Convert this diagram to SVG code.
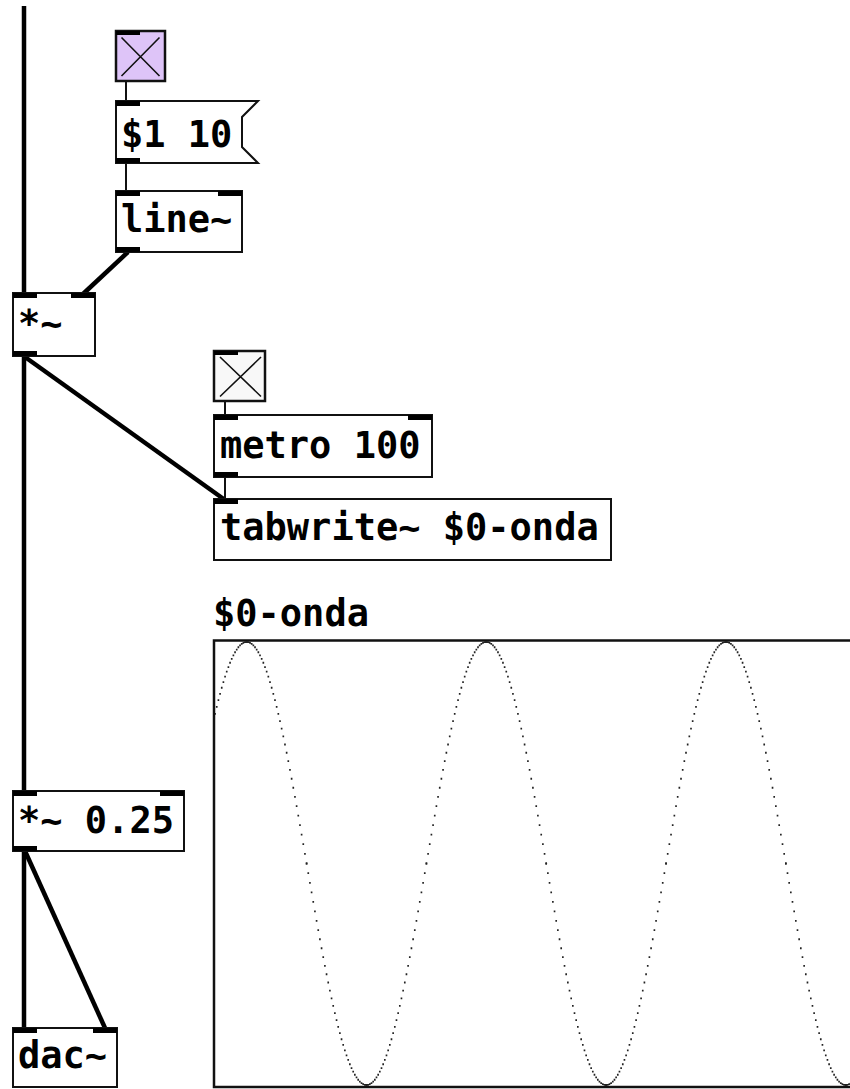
<svg xmlns="http://www.w3.org/2000/svg" xmlns:xlink="http://www.w3.org/1999/xlink" width="850" height="1089" viewBox="0 0 850 1089">
  <style>
    .box { fill: #ffffff; stroke: #111111; stroke-width: 2; }
    .tgl { stroke: #111111; stroke-width: 2.5; }
    .xmark { stroke: #111111; stroke-width: 1.6; fill: none; }
    .io { fill: #000000; }
    .lbl { font-family: "DejaVu Sans Mono", "Liberation Mono", monospace; font-weight: bold; font-size: 37px; fill: #000000; }
    .sig { stroke: #000000; stroke-width: 4.5; fill: none; }
    .ctl { stroke: #111111; stroke-width: 2; fill: none; }
    .pts { stroke: #222222; stroke-width: 1.8; fill: none; }
  </style>
  <defs>
    <!-- one quarter period of the table plot: sample points from crest to midline -->
    <path id="q" d="M-0.83 0h1.66M0.83 0.21h1.66M2.50 0.84h1.66M4.16 1.90h1.66M5.83 3.36h1.66M7.49 5.25h1.66M9.15 7.55h1.66M10.82 10.25h1.66M12.48 13.36h1.66M14.15 16.86h1.66M15.81 20.75h1.66M17.47 25.03h1.66M19.14 29.67h1.66M20.80 34.69h1.66M22.47 40.06h1.66M24.13 45.77h1.66M25.79 51.82h1.66M27.46 58.19h1.66M29.12 64.88h1.66M30.79 71.86h1.66M32.45 79.12h1.66M34.11 86.66h1.66M35.78 94.45h1.66M37.44 102.49h1.66M39.11 110.75h1.66M40.77 119.22h1.66M42.43 127.89h1.66M44.10 136.74h1.66M45.76 145.74h1.66M47.43 154.89h1.66M49.09 164.17h1.66M50.75 173.56h1.66M52.42 183.04h1.66M54.08 192.59h1.66M55.75 202.19h1.66M57.41 211.84h1.66M59.07 221.5h1.66"/>
    <g id="half">
      <use href="#q"/>
      <use href="#q" transform="rotate(180 59.90 221.5)"/>
    </g>
    <g id="per">
      <use href="#half"/>
      <use href="#half" transform="translate(239.62 0) scale(-1 1)"/>
    </g>
    <clipPath id="arrclip">
      <rect x="215" y="639" width="640" height="449"/>
    </clipPath>
  </defs>

  <!-- patch cords -->
  <g id="connectors">
    <line class="sig" x1="24" y1="6" x2="24" y2="293"/>
    <line class="sig" x1="128" y1="252" x2="83" y2="294"/>
    <line class="sig" x1="24" y1="356" x2="24" y2="791"/>
    <line class="sig" x1="25" y1="357" x2="225" y2="500"/>
    <line class="sig" x1="24" y1="851" x2="24" y2="1028"/>
    <line class="sig" x1="25" y1="851" x2="105" y2="1028"/>
    <line class="ctl" x1="126" y1="81" x2="126" y2="101"/>
    <line class="ctl" x1="126" y1="163" x2="126" y2="191"/>
    <line class="ctl" x1="225" y1="401" x2="225" y2="415"/>
    <line class="ctl" x1="225" y1="477" x2="225" y2="499"/>
  </g>

  <!-- toggle (on, selected colour) -->
  <g id="toggle1">
    <rect class="tgl" x="116" y="31" width="49" height="50" fill="#dec4f8"/>
    <path class="xmark" d="M121.5 37.5L159.5 76M159.5 37.5L121.5 76"/>
    <rect class="io" x="116" y="31" width="24" height="4"/>
  </g>

  <!-- message box -->
  <g id="msg">
    <path class="box" d="M116 101H258L242 117V147L258 163H116Z"/>
    <rect class="io" x="116" y="101" width="24" height="5"/>
    <rect class="io" x="116" y="158" width="24" height="5"/>
    <text class="lbl" x="121" y="147">$1 10</text>
  </g>

  <g id="line">
    <rect class="box" x="116" y="191" width="126" height="61"/>
    <rect class="io" x="116" y="191" width="24" height="5"/>
    <rect class="io" x="218" y="191" width="24" height="5"/>
    <rect class="io" x="116" y="247" width="24" height="5"/>
    <text class="lbl" x="121" y="232">line~</text>
  </g>

  <g id="mul">
    <rect class="box" x="13" y="293" width="82" height="63"/>
    <rect class="io" x="13" y="293" width="24" height="5"/>
    <rect class="io" x="71" y="293" width="24" height="5"/>
    <rect class="io" x="13" y="351" width="24" height="5"/>
    <text class="lbl" x="18" y="336">*~</text>
  </g>

  <g id="toggle2">
    <rect class="tgl" x="214" y="351" width="51" height="50" fill="#f8f8f8"/>
    <path class="xmark" d="M220 357L261 396.5M261 357L220 396.5"/>
    <rect class="io" x="214" y="351" width="24" height="4"/>
  </g>

  <g id="metro">
    <rect class="box" x="214" y="415" width="218" height="62"/>
    <rect class="io" x="214" y="415" width="24" height="5"/>
    <rect class="io" x="408" y="415" width="24" height="5"/>
    <rect class="io" x="214" y="472" width="24" height="5"/>
    <text class="lbl" x="220" y="458">metro 100</text>
  </g>

  <g id="tabwrite">
    <rect class="box" x="214" y="499" width="397" height="61"/>
    <rect class="io" x="214" y="499" width="24" height="5"/>
    <text class="lbl" x="220" y="540">tabwrite~ $0-onda</text>
  </g>

  <!-- table display -->
  <g id="array">
    <text class="lbl" x="213" y="626">$0-onda</text>
    <rect x="214" y="640.5" width="700" height="446.5" fill="#ffffff" stroke="#111111" stroke-width="2.5"/>
    <g clip-path="url(#arrclip)">
      <g class="pts" transform="translate(246.7 642)">
        <use href="#half" transform="scale(-1 1)"/>
        <use href="#per"/>
        <use href="#per" transform="translate(239.62 0)"/>
        <use href="#per" transform="translate(479.24 0)"/>
      </g>
    </g>
  </g>

  <g id="mul025">
    <rect class="box" x="13" y="791" width="171" height="60"/>
    <rect class="io" x="13" y="791" width="24" height="5"/>
    <rect class="io" x="160" y="791" width="24" height="5"/>
    <rect class="io" x="13" y="846" width="24" height="5"/>
    <text class="lbl" x="18" y="833">*~ 0.25</text>
  </g>

  <g id="dac">
    <rect class="box" x="13" y="1028" width="104" height="59"/>
    <rect class="io" x="13" y="1028" width="24" height="5"/>
    <rect class="io" x="93" y="1028" width="24" height="5"/>
    <text class="lbl" x="18" y="1068">dac~</text>
  </g>
</svg>
